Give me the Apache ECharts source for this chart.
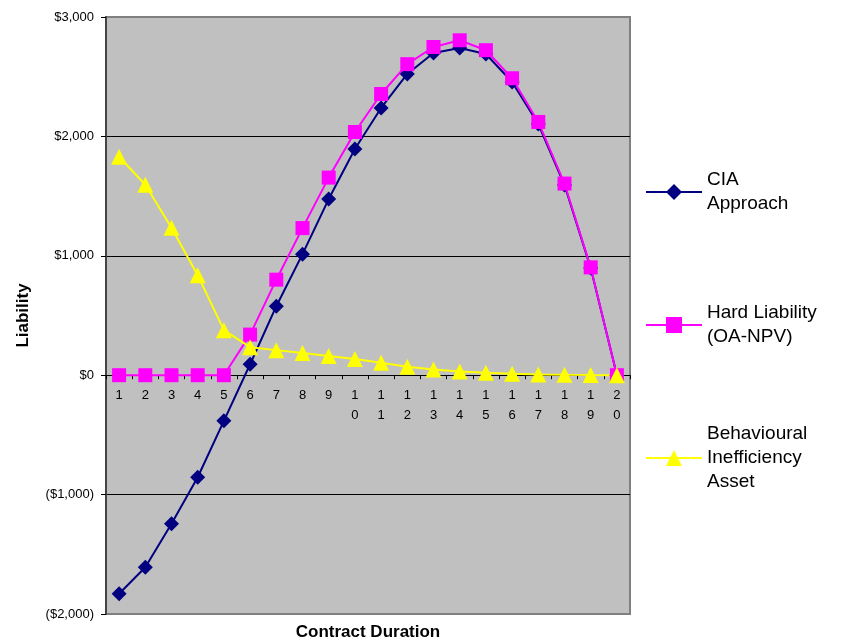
<!DOCTYPE html>
<html><head><meta charset="utf-8">
<script src="https://cdn.jsdelivr.net/npm/echarts@6/dist/echarts.min.js"></script>
<style>html,body{margin:0;padding:0;background:#fff}#c{width:845px;height:644px}</style>
</head><body><div id="c"></div>
<script>
var categories = ['1','2','3','4','5','6','7','8','9','10','11','12','13','14','15','16','17','18','19','20'];
var ciaApproach = [-1830,-1609,-1245,-855,-382,92,578,1014,1475,1894,2238,2523,2699,2740,2690,2456,2104,1593,897,0];
var hardLiability = [0,0,0,0,0,340,800,1232,1655,2037,2355,2605,2749,2805,2722,2487,2121,1605,903,0];
var behaviouralAsset = [1830,1595,1235,838,377,235,210,185,160,135,105,70,48,30,20,12,6,3,1,0];
var yTicks = {min:-2000, max:3000, interval:1000};

var FONT = '"Liberation Sans", Arial, sans-serif';
var W = 845, H = 644;
var G = {left:106, right:215, top:17, bottom:30};
var gridH = H - G.top - G.bottom;
// move the category axis up to the zero line of the value axis
var zeroOffset = -gridH * (0 - yTicks.min) / (yTicks.max - yTicks.min);

function money(v){
  var s = '$' + Math.abs(v).toLocaleString('en-US');
  return v < 0 ? '(' + s + ')' : s;
}
function legendDef(name, lines, top){
  var lh = 24;
  return {
    data:[name], left:645, top: top, orient:'vertical', padding:0,
    itemWidth:56, itemHeight:20, itemGap:0,
    textStyle:{fontFamily:FONT, fontSize:19, color:'#000', lineHeight:lh, padding:[(lines-1)*lh,0,0,0]},
    formatter:function(n){
      if(n==='CIA Approach') return 'CIA\nApproach';
      if(n==='Hard Liability (OA-NPV)') return 'Hard Liability\n(OA-NPV)';
      return 'Behavioural\nInefficiency\nAsset';
    }
  };
}
var chart = echarts.init(document.getElementById('c'));
chart.setOption({
  animation:false,
  textStyle:{fontFamily:FONT},
  grid:{left:G.left, right:G.right, top:G.top, bottom:G.bottom, containLabel:false, outerBoundsMode:'none', show:true, backgroundColor:'#C0C0C0', borderColor:'#808080', borderWidth:2},
  legend:[
    legendDef('CIA Approach', 2, 156),
    legendDef('Hard Liability (OA-NPV)', 2, 289),
    legendDef('Behavioural Inefficiency Asset', 3, 398)
  ],
  xAxis:{
    type:'category', data:categories, boundaryGap:true, position:'bottom', offset:zeroOffset,
    name:'Contract Duration', nameLocation:'middle', nameGap:249,
    nameTextStyle:{fontFamily:FONT, fontSize:17, fontWeight:'bold', color:'#000'},
    axisLine:{onZero:false, lineStyle:{color:'#000', width:1}},
    axisTick:{show:true, length:4, lineStyle:{color:'#000'}},
    axisLabel:{fontFamily:FONT, fontSize:13, color:'#000', lineHeight:20, margin:10, interval:0,
      formatter:function(v){return String(v).split('').join('\n');}},
    splitLine:{show:false}
  },
  yAxis:{
    type:'value', min:yTicks.min, max:yTicks.max, interval:yTicks.interval,
    name:'Liability', nameLocation:'middle', nameGap:74,
    nameTextStyle:{fontFamily:FONT, fontSize:17, fontWeight:'bold', color:'#000'},
    axisLine:{show:true, lineStyle:{color:'#444', width:2}},
    axisTick:{show:true, length:5, lineStyle:{color:'#000'}},
    axisLabel:{fontFamily:FONT, fontSize:13, color:'#000', margin:12, formatter:money},
    splitLine:{show:true, lineStyle:{color:['#808080','#000','#000','#000','#000','#808080'], width:1}}
  },
  series:[
    {name:'CIA Approach', type:'line', data:ciaApproach, symbol:'diamond', symbolSize:15, showAllSymbol:true,
      lineStyle:{color:'#000080', width:2}, itemStyle:{color:'#000080'}},
    {name:'Hard Liability (OA-NPV)', type:'line', data:hardLiability, symbol:'rect', symbolSize:14, showAllSymbol:true,
      lineStyle:{color:'#FF00FF', width:2}, itemStyle:{color:'#FF00FF'}},
    {name:'Behavioural Inefficiency Asset', type:'line', data:behaviouralAsset, symbol:'triangle', symbolSize:16, showAllSymbol:true,
      lineStyle:{color:'#FFFF00', width:2}, itemStyle:{color:'#FFFF00'}}
  ]
});
</script></body></html>
